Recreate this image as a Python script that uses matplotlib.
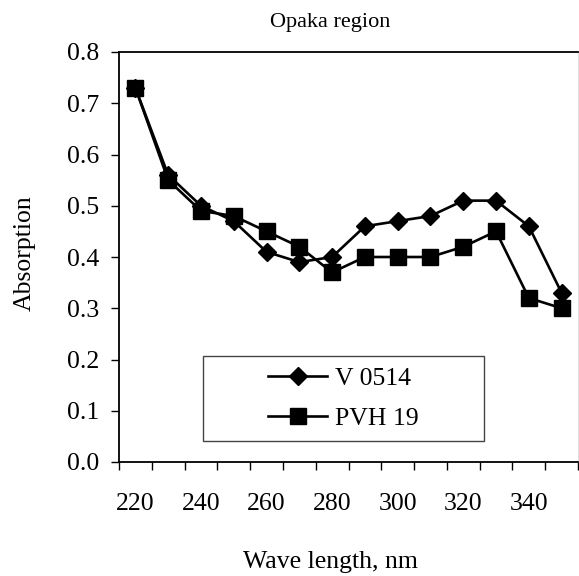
import matplotlib.pyplot as plt
import numpy as np
from matplotlib.patches import Rectangle

wavelengths = [220, 230, 240, 250, 260, 270, 280, 290, 300, 310, 320, 330, 340, 350]
v0514 = [0.73, 0.56, 0.50, 0.47, 0.41, 0.39, 0.40, 0.46, 0.47, 0.48, 0.51, 0.51, 0.46, 0.33]
pvh19 = [0.73, 0.55, 0.49, 0.48, 0.45, 0.42, 0.37, 0.40, 0.40, 0.40, 0.42, 0.45, 0.32, 0.30]
x_labels = [220, 240, 260, 280, 300, 320, 340]
y_ticks = [0.0, 0.1, 0.2, 0.3, 0.4, 0.5, 0.6, 0.7, 0.8]


def main():
    plt.rcParams["font.family"] = ["Liberation Serif", "DejaVu Serif"]
    W, H = 579, 576
    fig = plt.figure(figsize=(W / 100, H / 100), dpi=100)
    ax = fig.add_axes([119 / W, 1 - 462 / H, 459 / W, 410 / H])

    ax.plot(wavelengths, v0514, color="black", lw=1.9, marker="D", ms=9.5,
            label="V 0514", zorder=3)
    ax.plot(wavelengths, pvh19, color="black", lw=1.9, marker="s", ms=11,
            label="PVH 19", zorder=3)

    ax.set_xlim(215, 355)
    ax.set_ylim(0, 0.8)

    # category boundaries get tick marks, labels sit under every second point
    ax.set_xticks(np.arange(215, 356, 10))
    ax.set_xticklabels([])
    ax.set_xticks(x_labels, minor=True)
    ax.set_xticklabels([str(v) for v in x_labels], minor=True, fontsize=18.5)
    ax.tick_params(axis="x", which="major", direction="out", length=6, width=1)
    ax.tick_params(axis="x", which="minor", length=0, pad=22)

    ax.set_yticks(y_ticks)
    ax.set_yticklabels([f"{v:.1f}" for v in y_ticks], fontsize=18.5)
    ax.tick_params(axis="y", direction="out", length=6, width=1, pad=8)

    for s in ["left", "bottom", "top"]:
        ax.spines[s].set_linewidth(1.3)
        ax.spines[s].set_color("black")
    ax.spines["right"].set_color("#e0e0e0")

    # wide excel-style legend box
    ax.add_patch(Rectangle((0.183, 0.051), 0.612, 0.2075, transform=ax.transAxes,
                           fill=True, facecolor="white", edgecolor="#444444",
                           lw=1.0, zorder=4))
    leg = ax.legend(loc="center", bbox_to_anchor=(0.183 + 0.612 / 2, 0.051 + 0.2075 / 2),
                    frameon=False, fontsize=18.5, handlelength=2.3, handletextpad=0.3,
                    labelspacing=0.65)
    leg.set_zorder(5)

    fig.text(330 / W, 1 - 23 / H, "Opaka region", ha="center", va="center", fontsize=16)
    fig.text(330 / W, 1 - 562 / H, "Wave length, nm", ha="center", va="center", fontsize=18.5)
    fig.text(25 / W, 1 - 253 / H, "Absorption", ha="center", va="center",
             rotation=90, fontsize=18.5)

    fig.savefig("out.png", dpi=100)


if __name__ == "__main__":
    main()
